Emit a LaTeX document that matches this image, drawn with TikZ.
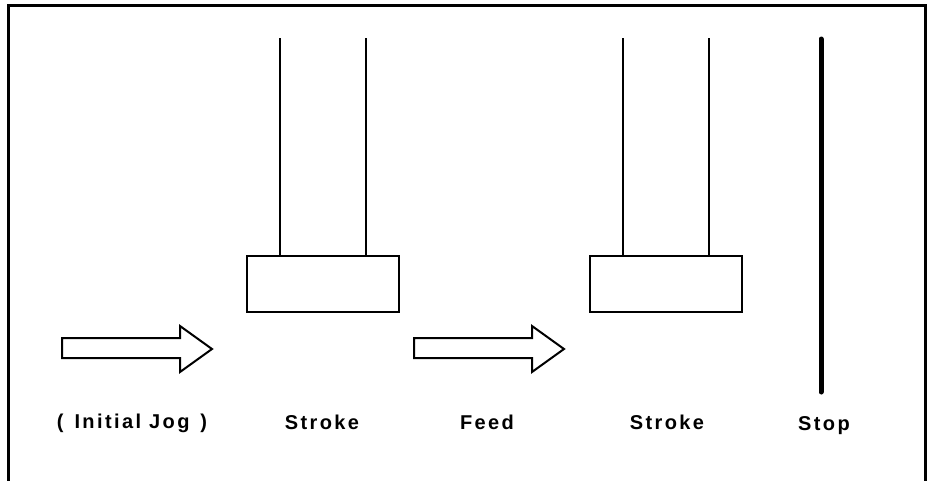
\documentclass[tikz,border=0pt]{standalone}
\usepackage{fontspec}
\setmainfont{Liberation Sans}[LetterSpace=12]
\begin{document}
\begin{tikzpicture}[x=1pt,y=-1pt]
        % Styles pour les plateaux, tiges et flèches
        \tikzstyle{plate} = [draw,line width=2pt,minimum width=152pt,minimum height=56pt,inner sep=0pt]
        \tikzstyle{rod} = [line width=2pt]
        \tikzstyle{hollow} = [line width=2pt,fill=white,line join=miter]
        \tikzstyle{caption} = [anchor=base,inner sep=0pt,font=\fontsize{20}{24}\selectfont\bfseries]

        \useasboundingbox (0,0) rectangle (927,480);

        % Cadre (ouvert en bas)
        \draw[line width=3pt] (8,484) -- (8,5) -- (925.5,5) -- (925.5,484);

        % Plateaux avec leurs deux tiges
        \node[plate] (strokeA) at (323,284) {};
        \node[plate] (strokeB) at (666,284) {};
        \foreach \b in {strokeA,strokeB}{
        \draw[rod] ([xshift=-43pt]\b.north) -- ++(0,-217);
        \draw[rod] ([xshift=43pt]\b.north) -- ++(0,-217);}

        % Butée
        \coordinate (stopTop) at (821,39);
        \coordinate (stopBot) at (821,392);
        \draw[line width=5pt,line cap=round] (stopTop) -- (stopBot);

        % Flèches creuses (jog et avance)
        \foreach \x in {62,414}{
        \draw[hollow] (\x,338) -- ++(118,0) -- ++(0,-12) -- ++(32,23)
            -- ++(-32,23) -- ++(0,-14) -- ++(-118,0) -- cycle;}

        % Étiquettes
        \node[caption] (jog) at (132,428) {(\hspace{3pt} Initial Jog \hspace{3pt})};
        \node[caption] (strokeAtxt) at (322,429) {Stroke};
        \node[caption] (feed) at (487,429) {Feed};
        \node[caption] (strokeBtxt) at (667,429) {Stroke};
        \node[caption] (stop) at (824,430) {Stop};

    \end{tikzpicture}
\end{document}
